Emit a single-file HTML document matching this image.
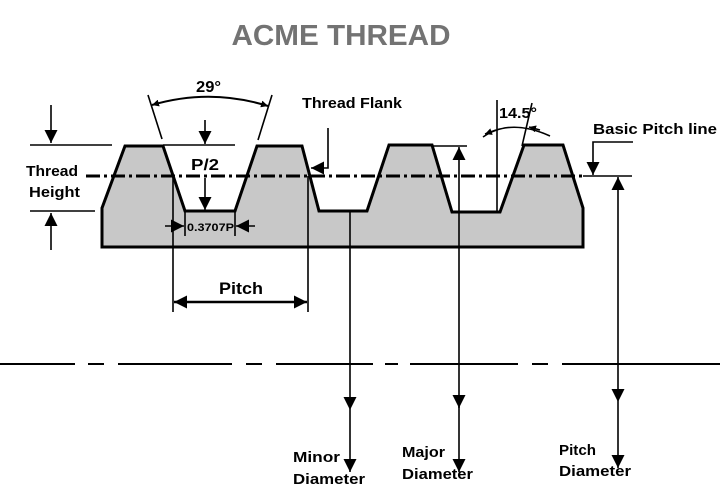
<!DOCTYPE html>
<html><head><style>html,body{margin:0;padding:0;background:#fff}svg{display:block}</style></head>
<body>
<svg width="720" height="489" viewBox="0 0 720 489" xmlns="http://www.w3.org/2000/svg" font-family="Liberation Sans, sans-serif" font-weight="bold">
<defs>
<marker id="a" viewBox="0 0 10 10" refX="10" refY="5" markerWidth="7" markerHeight="7" orient="auto-start-reverse" markerUnits="userSpaceOnUse"><path d="M0,0L10,5L0,10z" fill="#000"/></marker>
<marker id="b" viewBox="0 0 10 10" refX="10" refY="5" markerWidth="13" markerHeight="13" orient="auto-start-reverse" markerUnits="userSpaceOnUse"><path d="M0,0L10,5L0,10z" fill="#000"/></marker>
</defs>
<rect width="720" height="489" fill="#fff"/>
<text x="341" y="45" font-size="29" fill="#737373" text-anchor="middle" textLength="219" lengthAdjust="spacingAndGlyphs">ACME THREAD</text>

<polygon points="102,247 102,208 125,146 163,146 185,211 235,211 257,146 302,146 319,211 367,211 389,145 432,145 452,212 500,212 524,145 563,145 583,208 583,247" fill="#c8c8c8" stroke="#000" stroke-width="3" stroke-linejoin="miter"/>
<line x1="86" y1="176" x2="583" y2="176" stroke="#000" stroke-width="3" stroke-dasharray="14,4,3,4"/>

<g stroke="#000" stroke-width="1.6" fill="none">
<line x1="30" y1="145" x2="112" y2="145"/>
<line x1="30" y1="211" x2="95" y2="211"/>
<line x1="51" y1="105" x2="51" y2="143" marker-end="url(#b)"/>
<line x1="51" y1="250" x2="51" y2="213" marker-end="url(#b)"/>
<line x1="163" y1="145" x2="235" y2="145"/>
<line x1="205" y1="120" x2="205" y2="144" marker-end="url(#b)"/>
<line x1="205" y1="178" x2="205" y2="210" marker-end="url(#b)"/>
<line x1="185" y1="211" x2="185" y2="236"/>
<line x1="235" y1="211" x2="235" y2="236"/>
<line x1="165" y1="226" x2="184" y2="226" marker-end="url(#b)"/>
<line x1="255" y1="226" x2="236" y2="226" marker-end="url(#b)"/>
<line x1="173" y1="176" x2="173" y2="312"/>
<line x1="308" y1="176" x2="308" y2="312"/>
<line x1="174" y1="302" x2="307" y2="302" stroke-width="2.5" marker-start="url(#b)" marker-end="url(#b)"/>
<line x1="148" y1="95" x2="162" y2="139"/>
<line x1="272" y1="95" x2="258" y2="140"/>
<path d="M152,105 Q210,88 268,106" stroke-width="2" marker-start="url(#a)" marker-end="url(#a)"/>
<polyline points="328,128 328,168 311,168" marker-end="url(#b)"/>
<line x1="497" y1="100" x2="497" y2="211"/>
<line x1="532" y1="103" x2="522" y2="146"/>
<path d="M483,137 Q510,118 550,136"/>
<line x1="485" y1="134" x2="496" y2="130" marker-start="url(#a)"/>
<line x1="540" y1="130" x2="529" y2="127" marker-end="url(#a)"/>
<polyline points="633,142 593,142 593,175" marker-end="url(#b)"/>
<line x1="583" y1="176" x2="632" y2="176"/>
<line x1="432" y1="146" x2="467" y2="146"/>
<line x1="350" y1="212" x2="350" y2="410" marker-end="url(#b)"/>
<line x1="350" y1="410" x2="350" y2="472" marker-end="url(#b)"/>
<line x1="459" y1="410" x2="459" y2="147" marker-end="url(#b)"/>
<line x1="459" y1="405" x2="459" y2="408" marker-end="url(#b)"/>
<line x1="459" y1="410" x2="459" y2="472" marker-end="url(#b)"/>
<line x1="618" y1="400" x2="618" y2="177" marker-end="url(#b)"/>
<line x1="618" y1="395" x2="618" y2="402" marker-end="url(#b)"/>
<line x1="618" y1="402" x2="618" y2="468" marker-end="url(#b)"/>
</g>
<g stroke="#000" stroke-width="2">
<line x1="0" y1="364" x2="75" y2="364"/>
<line x1="88" y1="364" x2="104" y2="364"/>
<line x1="118" y1="364" x2="232" y2="364"/>
<line x1="246" y1="364" x2="262" y2="364"/>
<line x1="276" y1="364" x2="373" y2="364"/>
<line x1="385" y1="364" x2="398" y2="364"/>
<line x1="410" y1="364" x2="518" y2="364"/>
<line x1="532" y1="364" x2="548" y2="364"/>
<line x1="562" y1="364" x2="720" y2="364"/>
</g>

<g font-size="15" fill="#000">
<text x="196" y="92" font-size="16" textLength="25" lengthAdjust="spacingAndGlyphs">29°</text>
<text x="302" y="108" textLength="100" lengthAdjust="spacingAndGlyphs">Thread Flank</text>
<text x="499" y="118" textLength="38" lengthAdjust="spacingAndGlyphs">14.5°</text>
<text x="593" y="134" textLength="124" lengthAdjust="spacingAndGlyphs">Basic Pitch line</text>
<text x="26" y="176" textLength="52" lengthAdjust="spacingAndGlyphs">Thread</text>
<text x="29" y="197" textLength="51" lengthAdjust="spacingAndGlyphs">Height</text>
<text x="191" y="170" font-size="16" textLength="28" lengthAdjust="spacingAndGlyphs">P/2</text>
<text x="187" y="231" font-size="11" textLength="47" lengthAdjust="spacingAndGlyphs">0.3707P</text>
<text x="219" y="294" font-size="17" textLength="44" lengthAdjust="spacingAndGlyphs">Pitch</text>
<text x="293" y="462" textLength="47" lengthAdjust="spacingAndGlyphs">Minor</text>
<text x="293" y="484" textLength="72" lengthAdjust="spacingAndGlyphs">Diameter</text>
<text x="402" y="457" textLength="43" lengthAdjust="spacingAndGlyphs">Major</text>
<text x="402" y="479" textLength="71" lengthAdjust="spacingAndGlyphs">Diameter</text>
<text x="559" y="455" textLength="37" lengthAdjust="spacingAndGlyphs">Pitch</text>
<text x="559" y="476" textLength="72" lengthAdjust="spacingAndGlyphs">Diameter</text>
</g>
</svg>
</body></html>
